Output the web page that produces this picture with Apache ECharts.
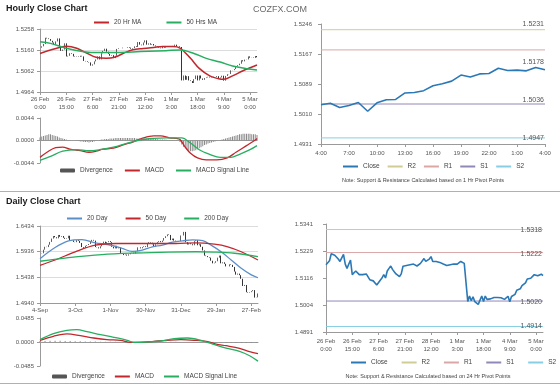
<!DOCTYPE html>
<html><head><meta charset="utf-8">
<script src="https://cdn.jsdelivr.net/npm/echarts@6/dist/echarts.min.js"></script>
<style>html,body{margin:0;padding:0;background:#fff}#c{width:560px;height:385px}</style>
</head><body><div id="c"></div>
<script>
// ---------------- DATA ----------------
const hourDays = ['26 Feb','27 Feb','28 Feb','1 Mar','4 Mar','5 Mar'];
const hourlyClose = [
1.5171,1.5177,1.5188,1.5217,1.5214,1.5211,1.5203,1.5195,1.5185,1.5200,
1.5214,1.5174,1.5156,1.5162,1.5191,1.5130,1.5133,1.5145,1.5142,1.5130,
1.5128,1.5130,1.5128,1.5133,1.5130,1.5109,1.5107,1.5104,1.5102,1.5087,
1.5093,1.5107,1.5116,1.5130,1.5116,1.5145,1.5156,1.5166,1.5152,1.5142,
1.5133,1.5136,1.5122,1.5133,1.5165,1.5168,1.5168,1.5171,1.5171,1.5171,
1.5174,1.5171,1.5166,1.5169,1.5177,1.5174,1.5197,1.5185,1.5182,1.5195,
1.5205,1.5185,1.5191,1.5185,1.5188,1.5181,1.5177,1.5174,1.5171,1.5168,
1.5174,1.5171,1.5177,1.5174,1.5177,1.5174,1.5179,1.5185,1.5177,1.5177,
1.5174,1.5018,1.5041,1.5021,1.5038,1.5018,1.5015,1.5006,1.5024,1.5041,
1.5018,1.5041,1.5027,1.5021,1.5029,1.5032,1.5035,1.5032,1.5035,1.5030,
1.5034,1.5038,1.5027,1.5032,1.5040,1.5017,1.5039,1.5047,1.5048,1.5065,
1.5066,1.5071,1.5084,1.5089,1.5096,1.5112,1.5107,1.5115,1.5116,1.5130,
1.5124,1.5125,1.5123,1.5132,1.5126];
const hourlyMA20 = [[0,1.5144],[8,1.5165],[15,1.5177],[21,1.5168],[27,1.5144],[32,1.5126],[38,1.5121],[43,1.5127],[48,1.5146],[53,1.5161],[59,1.5167],[65,1.5172],[70,1.5176],[76,1.5176],[80,1.5169],[86,1.5121],[91,1.5074],[97,1.5039],[102,1.5026],[105,1.5023],[110,1.5039],[116,1.5063],[124,1.5090]];
const hourlyMA50 = [[0,1.5199],[6,1.5191],[15,1.5168],[25,1.5152],[34,1.5148],[43,1.5148],[53,1.5151],[62,1.5154],[72,1.5157],[80,1.5160],[88,1.5144],[95,1.5121],[103,1.5104],[110,1.5085],[118,1.5073],[124,1.5067]];
const hourlyMACD = [[0,-0.0033],[4,-0.0023],[9,-0.0014],[13,-0.0013],[17,-0.0017],[23,-0.0020],[28,-0.0023],[32,-0.0021],[36,-0.0017],[42,-0.0015],[48,-0.0008],[53,-0.0003],[59,0.0005],[65,0.0009],[69,0.0009],[74,0.0005],[78,0.0004],[80,0.0002],[83,-0.0013],[86,-0.0025],[90,-0.0034],[95,-0.0038],[101,-0.0038],[107,-0.0034],[112,-0.0023],[118,-0.0010],[123,0.0001],[124,0.0004]];
const hourlySignal = [[0,-0.0039],[6,-0.0031],[13,-0.0021],[21,-0.0018],[28,-0.0020],[34,-0.0018],[42,-0.0013],[50,-0.0005],[57,0.0001],[65,0.0004],[72,0.0005],[78,0.0005],[81,0.0005],[86,-0.0005],[91,-0.0018],[97,-0.0027],[103,-0.0033],[109,-0.0033],[114,-0.0027],[120,-0.0018],[124,-0.0010]];
const hourlyDiv = [
.0006,.0008,.0009,.0010,.0011,.0012,.0012,.0011,.0010,.0009,
.0008,.0006,.0005,.0004,.0003,.0002,.0001,.0001,0,0,
0,-.0001,-.0001,-.0002,-.0002,-.0003,-.0003,-.0003,-.0004,-.0003,
-.0003,-.0002,-.0001,0,.0001,.0002,.0002,.0003,.0003,.0003,
.0004,.0004,.0004,.0005,.0005,.0005,.0005,.0005,.0005,.0005,
.0005,.0005,.0005,.0005,.0005,.0004,.0004,.0004,.0004,.0004,
.0004,.0004,.0004,.0003,.0003,.0003,.0003,.0003,.0002,.0002,
.0002,.0002,.0002,.0001,.0001,.0001,.0001,.0001,.0001,0,
-.0003,-.0008,-.0012,-.0015,-.0018,-.0020,-.0021,-.0021,-.0020,-.0019,
-.0017,-.0015,-.0013,-.0011,-.0009,-.0008,-.0006,-.0005,-.0004,-.0003,
-.0002,-.0001,0,.0001,.0002,.0003,.0004,.0005,.0006,.0007,
.0008,.0009,.0010,.0011,.0012,.0012,.0013,.0013,.0013,.0013,
.0013,.0012,.0012,.0012,.0011];
const hourTicksA = ['1.4964','1.5062','1.5160','1.5258'];
const hourTicksC = ['1.4931','1.5010','1.5089','1.5167','1.5246'];
const hourTicksF = ['1.4891','1.5004','1.5116','1.5229','1.5341'];
const macdTicksH = ['-0.0044','0.0000','0.0044'];
const macdTicksD = ['-0.0485','0.0000','0.0485'];
const dailyTicks = ['1.4940','1.5438','1.5936','1.6434'];
const srNames = ['R2','R1','S1','S2'];
const hourSR = [1.5231,1.5178,1.5036,1.4947];
const daySR = [1.5318,1.5222,1.5020,1.4914];

const dailyStart = [2012,8,4];
const dailyClose = [
1.5900,1.5905,1.5975,1.6030,1.6025,1.6070,1.6125,1.6190,1.6240,1.6215,
1.6195,1.6260,1.6225,1.6240,1.6205,1.6185,1.6195,1.6245,1.6160,1.6155,
1.6125,1.6120,1.6160,1.6145,1.6105,1.6025,1.6010,1.6050,1.6065,1.6085,
1.6130,1.6165,1.6150,1.6025,1.6020,1.6000,1.6040,1.6100,1.6130,1.6090,
1.6120,1.6140,1.6120,1.6030,1.6000,1.6050,1.6000,1.6020,1.5905,1.5890,
1.5870,1.5880,1.5860,1.5885,1.5910,1.5915,1.5900,1.5945,1.6020,1.6020,
1.6000,1.6025,1.6040,1.6025,1.6090,1.6120,1.6110,1.6080,1.6030,1.6080,
1.6120,1.6140,1.6120,1.6150,1.6200,1.6235,1.6270,1.6260,1.6160,1.6190,
1.6150,1.6140,1.6130,1.6140,1.6250,1.6250,1.6320,1.6120,1.6075,1.6100,
1.6080,1.6060,1.6140,1.6160,1.6060,1.6080,1.6030,1.5960,1.5860,1.5850,
1.5830,1.5820,1.5760,1.5710,1.5720,1.5750,1.5820,1.5860,1.5710,1.5730,
1.5700,1.5650,1.5650,1.5690,1.5680,1.5640,1.5550,1.5490,1.5510,1.5480,
1.5410,1.5270,1.5290,1.5150,1.5140,1.5150,1.5170,1.5190,1.5045,1.5050,
1.5125];
const dailyMA20 = [[0,1.5800],[9,1.6017],[17,1.6146],[25,1.6171],[33,1.6107],[41,1.6070],[49,1.6000],[55,1.5940],[61,1.5966],[67,1.6030],[73,1.6062],[79,1.6120],[85,1.6146],[91,1.6165],[97,1.6150],[102,1.6062],[108,1.5934],[114,1.5775],[120,1.5613],[126,1.5485],[130,1.5430]];
const dailyMA50 = [[0,1.5670],[9,1.5774],[21,1.5934],[33,1.6062],[45,1.6094],[57,1.6094],[69,1.6094],[81,1.6094],[93,1.6107],[104,1.6081],[112,1.6030],[120,1.5934],[130,1.5774]];
const dailyMA200 = [[0,1.5750],[17,1.5820],[37,1.5880],[57,1.5910],[77,1.5928],[93,1.5934],[104,1.5928],[116,1.5905],[130,1.5840]];
const dailyMACD = [[0,0.0034],[8,0.0115],[16,0.0163],[24,0.0129],[32,0.0081],[40,0.0047],[48,0.0034],[54,-0.0007],[60,-0.0007],[68,0.0014],[76,0.0034],[84,0.0047],[92,0.0034],[100,0.0007],[105,-0.0041],[111,-0.0075],[119,-0.0129],[125,-0.0197],[130,-0.0237]];
const dailySignal = [[0,0.0047],[8,0.0170],[16,0.0237],[22,0.0251],[28,0.0210],[36,0.0149],[44,0.0095],[52,0.0034],[56,-0.0007],[64,0.0000],[72,0.0020],[80,0.0068],[88,0.0081],[96,0.0034],[103,-0.0041],[111,-0.0122],[119,-0.0190],[125,-0.0278],[130,-0.0387]];
const dailyDiv = [[0,.0018],[3,.0022],[6,.0025],[9,.0026],[12,.0024],[15,.0022],[18,.0020],[21,.0017],[24,.0014],[27,.0012],[30,.0010],[33,.0008],[36,.0006],[39,.0005],[42,.0004],[45,.0003],[48,.0002],[51,.0001],[54,0],[57,-.0001],[60,0],[63,.0001],[66,.0002],[69,.0003],[72,.0004],[75,.0004],[78,.0004],[81,.0003],[84,.0002],[87,.0001],[90,0],[93,-.0002],[96,-.0004],[99,-.0006],[102,-.0008],[105,-.0010],[108,-.0012],[111,-.0014],[114,-.0016],[117,-.0018],[120,-.0019],[123,-.0020],[126,-.0021],[129,-.0021]];

// ---------------- BUILD ----------------
const FF = 'Liberation Sans, Arial, Helvetica, sans-serif';
const RED = '#c1272d', GREEN = '#27ae60', BLUE20 = '#5b8fc7', CLOSE = '#2a78b6';
const srColors = ['#cfcc95','#dba6a6','#9288b8','#86cfe4'];

const hourCats = [];
hourDays.forEach(d => { for (let h = 0; h < 24; h++) if (hourCats.length < hourlyClose.length) hourCats.push(d + '\n' + h + ':00'); });
const lastN = 25;
const recentCats = hourCats.slice(hourCats.length - lastN).map(s => s.split('\n')[1]);
const recentClose = hourlyClose.slice(hourlyClose.length - lastN);

const MON = ['Jan','Feb','Mar','Apr','May','Jun','Jul','Aug','Sep','Oct','Nov','Dec'];
const dayCats = [];
{ let t = Date.UTC(dailyStart[0], dailyStart[1], dailyStart[2]);
  while (dayCats.length < dailyClose.length) { const d = new Date(t); const w = d.getUTCDay();
    if (w !== 0 && w !== 6) dayCats.push(d.getUTCDate() + '-' + MON[d.getUTCMonth()]); t += 86400000; } }

function stepOf(t){ return (parseFloat(t[t.length-1]) - parseFloat(t[0])) / (t.length-1); }
const base = t => parseFloat(t[0]);
const sh = (v, b) => +(v - b).toFixed(6);
const shP = (arr, b) => arr.map(p => [p[0], sh(p[1], b)]);
function candles(close, b){ return close.map((c,i)=>{ const o = i ? close[i-1] : c; return [sh(o,b), sh(c,b), sh(Math.min(o,c),b), sh(Math.max(o,c),b)]; }); }

const axLine = {show:true, lineStyle:{color:'#9a9a9a', width:1}};
const lbl = {fontSize:6, color:'#555', fontFamily:FF};
function yOff(grid, ticks, margin, split){
  const s = stepOf(ticks);
  return {type:'value', gridIndex:grid, min:0, max:+(s*(ticks.length-1)).toFixed(8), interval:s,
    axisLine:axLine, axisTick:{show:true, length:3, lineStyle:{color:'#9a9a9a'}},
    axisLabel:Object.assign({margin:margin, formatter:v=>ticks[Math.round(v/s)]||''}, lbl),
    splitLine:{show:!!split, lineStyle:{color:'#dcdcdc', width:1}}};
}
function yMacd(grid, ticks, margin){
  const s = parseFloat(ticks[2]);
  return {type:'value', gridIndex:grid, min:-s, max:s, interval:s, axisLine:axLine,
    axisTick:{show:true, length:3, lineStyle:{color:'#9a9a9a'}},
    axisLabel:Object.assign({margin:margin, formatter:v=>ticks[Math.round(v/s)+1]||''}, lbl),
    splitLine:{show:false}};
}
function xCat(grid, cats, interval, margin, showLabel){
  return {type:'category', gridIndex:grid, data:cats, boundaryGap:false,
    axisLine:Object.assign({onZero:!showLabel}, axLine),
    axisTick:{show:showLabel, interval:interval, length:3, lineStyle:{color:'#9a9a9a'}},
    axisLabel:Object.assign({show:showLabel, interval:interval, margin:margin, lineHeight:8}, lbl),
    splitLine:{show:false}};
}

const bA = base(hourTicksA), bC = base(hourTicksC), bF = base(hourTicksF), bD = base(dailyTicks);
const lineS = (name, x, data, color, w, smooth) => ({name, type:'line', xAxisIndex:x, yAxisIndex:x, data, smooth:smooth?0.35:false,
  symbol:'none', lineStyle:{color, width:w}, itemStyle:{color}, z:3});
function srSeries(grid, levels, b, lastIdx){
  return levels.map((v,i)=>({name:srNames[i], type:'line', xAxisIndex:grid, yAxisIndex:grid, symbol:'none',
    data:[[0, sh(v,b)],[lastIdx, sh(v,b)]], lineStyle:{color:srColors[i], width:1}, itemStyle:{color:srColors[i]}, z:2,
    markLine:{silent:true, symbol:'none', lineStyle:{color:'rgba(0,0,0,0)', width:0},
      label:{show:true, position:'insideEndTop', distance:[1,2], formatter:v.toFixed(4), fontSize:7, color:'#555', fontFamily:FF},
      data:[{yAxis: sh(v,b)}]}}));
}
const candleStyle = {color:'#3a3a3a', color0:'#000', borderColor:'#3a3a3a', borderColor0:'#000', borderWidth:0.8};
const legText = {fontSize:6.5, color:'#444', fontFamily:FF};
const li = n => ({name:n, itemStyle:{opacity:0}});
const leg = (left, top, data, gap) => ({left, top, padding:0, itemWidth:15, itemHeight:4, itemGap:gap, data, textStyle:legText, selectedMode:false});

const option = {
  animation:false, backgroundColor:'#fff',
  title:[
    {text:'Hourly Close Chart', left:6, top:4, padding:0, textStyle:{fontSize:9, fontWeight:'bold', color:'#1a1a1a', fontFamily:FF}},
    {text:'Daily Close Chart', left:6, top:197, padding:0, textStyle:{fontSize:9, fontWeight:'bold', color:'#1a1a1a', fontFamily:FF}},
    {text:'COZFX.COM', left:253, top:5, padding:0, textStyle:{fontSize:9, fontWeight:'normal', color:'#6a6a6a', fontFamily:FF}}
  ],
  legend:[
    leg(93, 19, [li('20 Hr MA'), li('50 Hrs MA')], 24),
    leg(60, 167, [{name:'Divergence', itemStyle:{color:'#555'}}, li('MACD'), li('MACD Signal Line')], 11),
    leg(342, 163, ['Close','R2','R1','S1','S2'].map(li), 7),
    leg(66, 215, ['20 Day','50 Day','200 Day'].map(li), 17),
    leg(52, 373, [{name:'Divergence', itemStyle:{color:'#555'}}, li('MACD'), li('MACD Signal Line')], 9),
    leg(350, 359, ['Close','R2','R1','S1','S2'].map(li), 13)
  ],
  grid:[
    {left:40, top:29, width:217, height:63, outerBoundsMode:'none'},
    {left:40, top:118, width:217, height:45, outerBoundsMode:'none'},
    {left:321, top:24, width:224, height:120, outerBoundsMode:'none'},
    {left:40, top:226, width:218, height:77, outerBoundsMode:'none'},
    {left:40, top:318, width:218, height:48, outerBoundsMode:'none'},
    {left:326, top:224, width:217, height:108, outerBoundsMode:'none'}
  ],
  xAxis:[
    xCat(0, hourCats, 14, 3, true),
    xCat(1, hourCats, 14, 3, false),
    xCat(2, recentCats, 2, 5, true),
    xCat(3, dayCats, 20, 3, true),
    xCat(4, dayCats, 20, 3, false),
    xCat(5, hourCats, 14, 5, true)
  ],
  yAxis:[
    yOff(0, hourTicksA, 6, true),
    yMacd(1, macdTicksH, 6),
    yOff(2, hourTicksC, 9, false),
    yOff(3, dailyTicks, 6, true),
    yMacd(4, macdTicksD, 6),
    yOff(5, hourTicksF, 13, false)
  ],
  series:[
    {name:'Hourly', type:'candlestick', xAxisIndex:0, yAxisIndex:0, data:candles(hourlyClose, bA), itemStyle:candleStyle, barMaxWidth:1.6, z:2},
    lineS('20 Hr MA', 0, shP(hourlyMA20, bA), RED, 1.5, true),
    lineS('50 Hrs MA', 0, shP(hourlyMA50, bA), GREEN, 1.5, true),
    {name:'Divergence', type:'bar', xAxisIndex:1, yAxisIndex:1, data:hourlyDiv, barWidth:0.8, itemStyle:{color:'#8a8a8a'}},
    lineS('MACD', 1, hourlyMACD, RED, 1.3, true),
    lineS('MACD Signal Line', 1, hourlySignal, GREEN, 1.3, true),
    ...srSeries(2, hourSR, bC, lastN-1),
    lineS('Close', 2, recentClose.map(v=>sh(v,bC)), CLOSE, 1.6, false),
    {name:'Daily', type:'candlestick', xAxisIndex:3, yAxisIndex:3, data:candles(dailyClose, bD), itemStyle:candleStyle, barMaxWidth:1.5, z:2},
    lineS('20 Day', 3, shP(dailyMA20, bD), BLUE20, 1.3, true),
    lineS('50 Day', 3, shP(dailyMA50, bD), RED, 1.3, true),
    lineS('200 Day', 3, shP(dailyMA200, bD), GREEN, 1.3, true),
    {name:'Divergence', type:'bar', xAxisIndex:4, yAxisIndex:4, data:dailyDiv, barWidth:0.8, itemStyle:{color:'#8a8a8a'}},
    lineS('MACD', 4, dailyMACD, RED, 1.3, true),
    lineS('MACD Signal Line', 4, dailySignal, GREEN, 1.3, true),
    ...srSeries(5, daySR, bF, hourlyClose.length-1),
    lineS('Close', 5, hourlyClose.map(v=>sh(v,bF)), CLOSE, 1.6, false)
  ],
  graphic:[
    {type:'line', shape:{x1:0,y1:191.5,x2:560,y2:191.5}, style:{stroke:'#b0b0b0', lineWidth:1}},
    {type:'line', shape:{x1:0,y1:383.5,x2:560,y2:383.5}, style:{stroke:'#b0b0b0', lineWidth:1}},
    {type:'text', x:423, y:180, style:{text:'Note: Support & Resistance Calculated based on 1 Hr Pivot Points', font:'5.5px '+FF, fill:'#444', align:'center', verticalAlign:'middle'}},
    {type:'text', x:428, y:376, style:{text:'Note: Support & Resistance Calculated based on 24 Hr Pivot Points', font:'5.5px '+FF, fill:'#444', align:'center', verticalAlign:'middle'}}
  ]
};
const chart = echarts.init(document.getElementById('c'), null, {renderer:'canvas'});
chart.setOption(option);
</script></body></html>
